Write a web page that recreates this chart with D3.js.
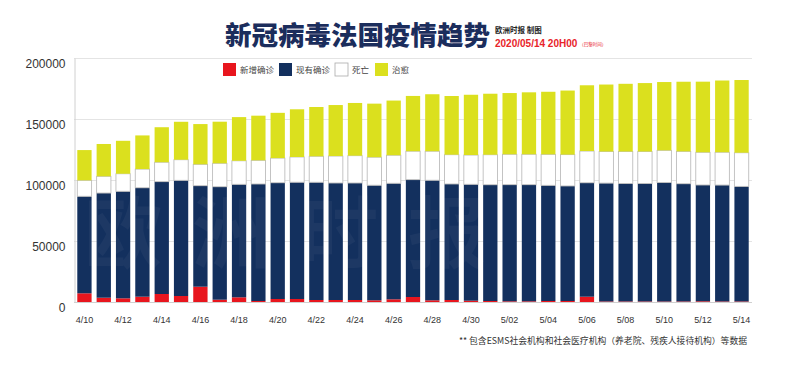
<!DOCTYPE html>
<html>
<head>
<meta charset="utf-8">
<script src="https://cdnjs.cloudflare.com/ajax/libs/d3/7.8.5/d3.min.js"></script>
<style>
body { margin: 0; background: #fff; }
svg { display: block; font-family: "Liberation Sans", Arial, sans-serif; }
</style>
</head>
<body>
<svg id="chart"></svg>
<script>
// dates 4/10 .. 5/14
var dates = ["4/10","4/11","4/12","4/13","4/14","4/15","4/16","4/17","4/18","4/19","4/20",
    "4/21","4/22","4/23","4/24","4/25","4/26","4/27","4/28","4/29","4/30",
    "5/01","5/02","5/03","5/04","5/05","5/06","5/07","5/08","5/09","5/10","5/11","5/12","5/13","5/14"];
var newCases = [7130,3520,3030,4340,6560,4920,12540,1890,3850,820,2460,2460,1640,1640,1640,1390,2210,4100,
    1390,1640,1070,820,570,570,820,820,4340,450,450,450,400,450,600,450,450];
var activeCases = [79500,85800,87700,89300,92100,94800,82800,92600,92600,95900,95300,95700,96500,95900,95900,94300,95100,96200,
    98400,95100,95400,95300,95600,95600,94800,94300,93400,97000,96700,96700,97500,96500,95300,95400,94300];
var deaths = [13100,13700,14400,15300,15900,16900,17500,19200,19300,19400,20200,20700,21300,22100,22400,23000,23000,23300,
    23800,24000,24000,24600,24900,24900,25400,25700,26000,25900,26200,26200,26400,26500,26800,26900,27600];
var recovered = [24800,26500,27000,27600,28700,31100,33000,34100,35800,36600,37100,39100,40400,41800,43200,43900,44800,45300,
    46700,48100,49400,50000,50200,50800,51300,52500,53900,54900,55500,56100,56000,57100,57900,58800,59600];
var seriesKeys = ["new","active","deaths","recovered"];
var seriesNames = ["新增确诊","现有确诊","死亡","治愈"];
var seriesColors = ["#e8161e","#13305e","#ffffff","#dbe01e"];
var yTicks = [0,50000,100000,150000,200000];

var W = 800, H = 369;
var svg = d3.select("#chart").attr("width", W).attr("height", H);
svg.append("rect").attr("width", W).attr("height", H).attr("fill", "#fff");

var plotL = 74, plotR = 752, plotT = 58, plotB = 302;

var x = d3.scaleBand().domain(dates).range([plotL, plotR]).paddingInner(0.26).paddingOuter(0.17);
var y = d3.scaleLinear().domain([0, 200000]).range([plotB, plotT]);

// title
svg.append("text")
    .attr("x", 225).attr("y", 45)
    .style("font-family", "'Noto Sans CJK SC'")
    .style("font-weight", 900)
    .style("font-size", "26.5px")
    .attr("fill", "#1b2d5c")
    .text("新冠病毒法国疫情趋势");
svg.append("text")
    .attr("x", 495).attr("y", 33)
    .style("font-family", "'Noto Sans CJK SC'")
    .style("font-weight", 700)
    .style("font-size", "7.5px")
    .attr("fill", "#222")
    .text("欧洲时报 制图");
var dt = svg.append("text")
    .attr("x", 495).attr("y", 47)
    .attr("fill", "#e8242a");
dt.append("tspan").style("font-weight", "bold").style("font-size", "10px").text("2020/05/14 20H00");
dt.append("tspan").attr("dx", 2).attr("dy", -1)
    .style("font-family", "'Noto Sans CJK SC'").style("font-size", "4.5px").text("（巴黎时间）");

// gridlines
svg.append("g").selectAll("line").data(yTicks.slice(1)).enter().append("line")
    .attr("x1", plotL).attr("x2", plotR)
    .attr("y1", function(d){ return y(d) + 0.5; }).attr("y2", function(d){ return y(d) + 0.5; })
    .attr("stroke", "#e4e4e4").attr("stroke-width", 1);

// y axis
var yAxis = svg.append("g").attr("transform", "translate(" + (plotL + 0.5) + ",0)")
    .call(d3.axisLeft(y).tickValues(yTicks).tickSize(0).tickPadding(9).tickFormat(d3.format("d")));
yAxis.select(".domain").attr("stroke", "#d0d0d0");
yAxis.selectAll("text").style("font-size", "12px").attr("fill", "#333").attr("dy", "0.75em");

// legend
var lg = svg.append("g").attr("transform", "translate(223,63)");
var lgX = [0, 56, 112, 152];
seriesNames.forEach(function(n, i){
    lg.append("rect").attr("x", lgX[i]).attr("y", 0).attr("width", 13).attr("height", 13)
        .attr("fill", seriesColors[i])
        .attr("stroke", i == 2 ? "#aaa" : "none").attr("stroke-width", 0.8);
    lg.append("text").attr("x", lgX[i] + 17).attr("y", 10)
        .style("font-family", "'Noto Sans CJK SC'").style("font-size", "8.5px")
        .attr("fill", "#444").text(n);
});

// stacked bars
var rows = dates.map(function(d, i){
    return {date: d, "new": newCases[i], active: activeCases[i], deaths: deaths[i], recovered: recovered[i]};
});
var stacked = d3.stack().keys(seriesKeys)(rows);
var bars = svg.append("g");
stacked.forEach(function(layer, k){
    bars.append("g").selectAll("rect").data(layer).enter().append("rect")
        .attr("x", function(d){ return x(d.data.date); })
        .attr("width", x.bandwidth())
        .attr("y", function(d){ return y(d[1]); })
        .attr("height", function(d){ return y(d[0]) - y(d[1]); })
        .attr("fill", seriesColors[k])
        .attr("stroke", k == 2 ? "#bdbdbd" : "none")
        .attr("stroke-width", 0.9);
});

// faint watermark
svg.append("text")
    .attr("x", 300).attr("y", 262)
    .attr("text-anchor", "middle")
    .style("font-family", "'Noto Sans CJK SC'").style("font-weight", 700)
    .style("font-size", "78px").style("letter-spacing", "30px")
    .attr("fill", "#fff").attr("opacity", 0.04)
    .text("欧洲时报");

// x axis
svg.append("line").attr("x1", plotL).attr("x2", plotR).attr("y1", plotB + 0.5).attr("y2", plotB + 0.5)
    .attr("stroke", "#d0d0d0");
svg.append("g").selectAll("text").data(dates.filter(function(d, i){ return i % 2 == 0; })).enter()
    .append("text")
    .attr("x", function(d){ return x(d) + x.bandwidth() / 2; })
    .attr("y", 323)
    .attr("text-anchor", "middle")
    .style("font-size", "9px").attr("fill", "#333")
    .text(function(d){ return d; });

// footnote
svg.append("text")
    .attr("x", 747).attr("y", 344)
    .attr("text-anchor", "end")
    .style("font-family", "'Noto Sans CJK SC'").style("font-size", "8.8px")
    .attr("fill", "#333")
    .text("** 包含ESMS社会机构和社会医疗机构（养老院、残疾人接待机构）等数据");
</script>
</body>
</html>
